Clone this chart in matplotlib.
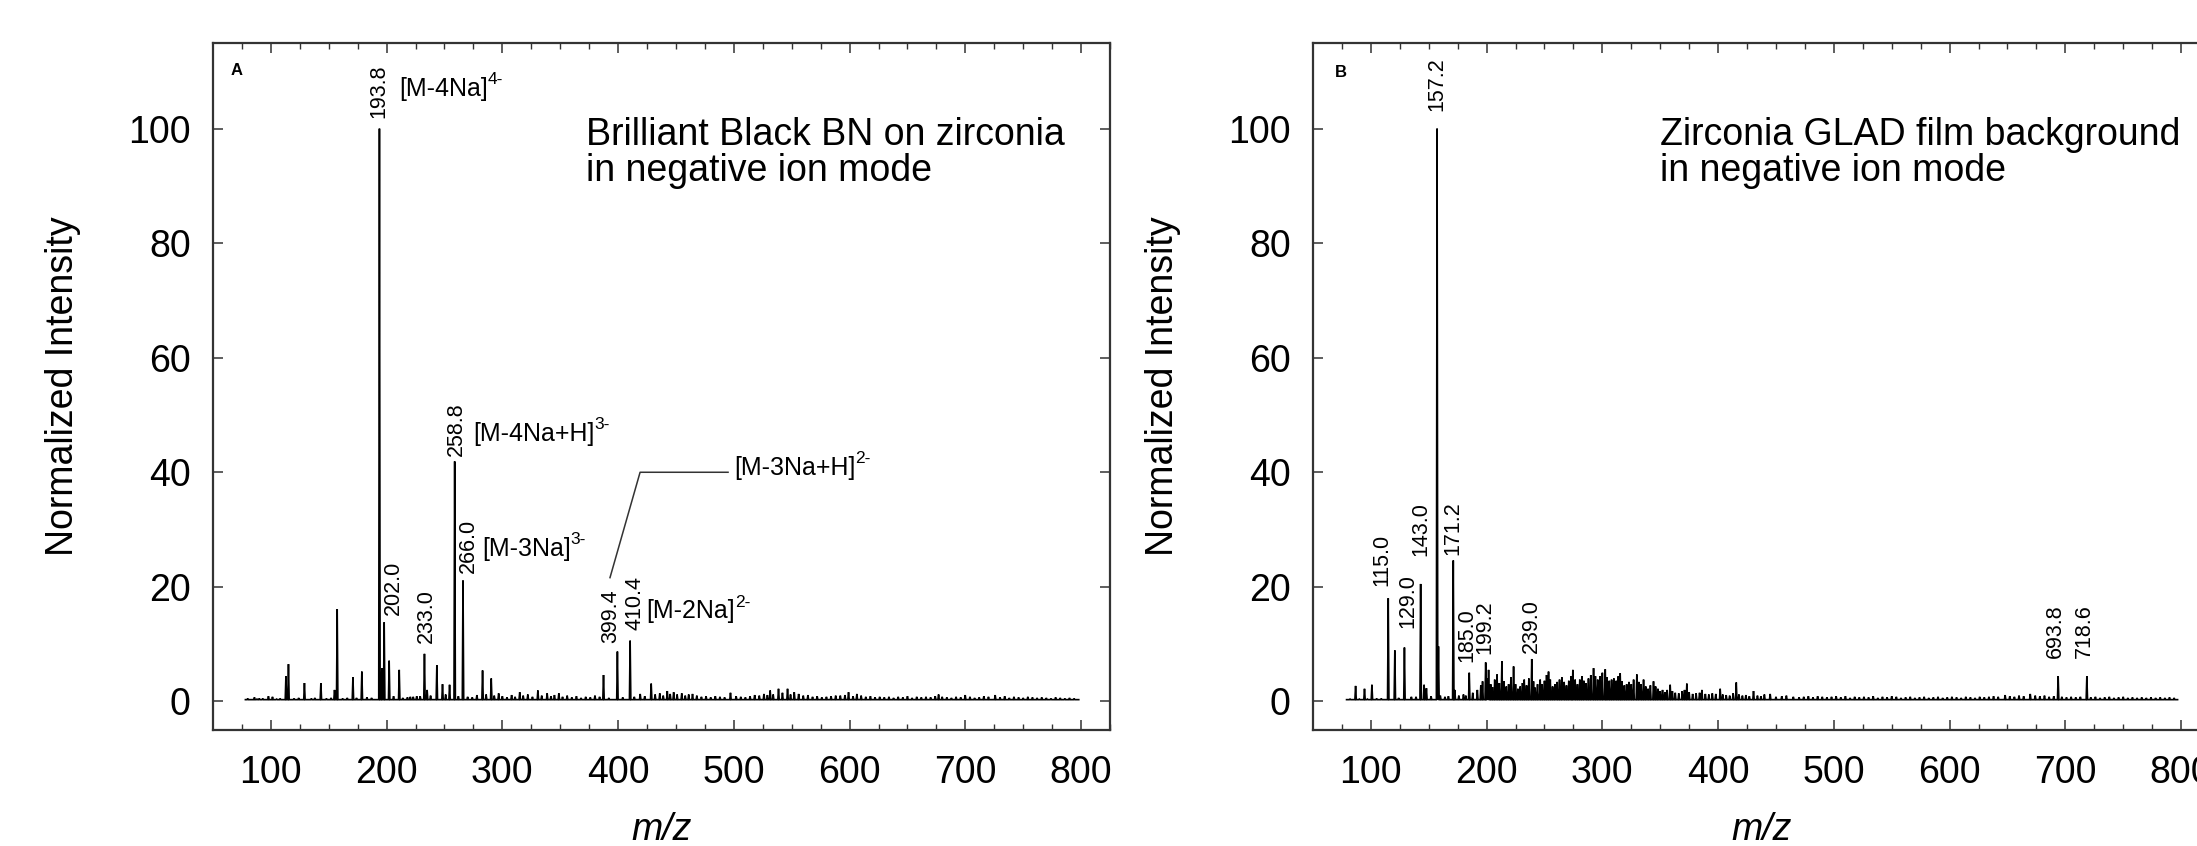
import matplotlib
matplotlib.use("Agg")
import matplotlib.pyplot as plt
import numpy as np

plt.rcParams['font.family'] = ['Liberation Sans', 'DejaVu Sans']

# ---- panel A: Brilliant Black BN on zirconia (m/z, normalized intensity) ----
peaks_a_mz = [85.8, 90, 97.9, 101.4, 113, 115.2, 129, 143.2, 155, 157.3, 170.9, 178.6,
              193.8, 195.9, 197.9, 202.2, 210.9, 220.5, 226, 232.7, 235, 243.4, 248.3,
              254.4, 258.8, 266.0, 274, 282.9, 290.4, 296.8, 315, 330.7, 338.7, 348.8,
              387.4, 399.4, 410.4, 419.1, 428.6, 442.5, 448, 464.3, 497.1, 531.4, 538.6,
              546.4, 552.2, 599.1, 606.3, 676.9, 699.9, 725.8]
peaks_a_int = [0.7, 0.5, 0.9, 0.8, 4.4, 6.5, 3.2, 3.2, 2.0, 16.1, 4.2, 5.2,
               100, 5.8, 13.8, 7.1, 5.5, 0.8, 0.9, 8.3, 2.0, 6.3, 3.0,
               2.9, 41.9, 21.1, 0.7, 5.4, 4.0, 1.4, 1.6, 1.9, 1.4, 1.4,
               4.6, 8.7, 10.6, 1.3, 3.1, 1.8, 1.6, 1.3, 1.5, 1.9, 2.2,
               2.2, 1.6, 1.6, 1.3, 1.2, 1.1, 1.1]
noise_a_mz = [80, 88, 93, 105, 108, 120, 124, 135, 138, 148, 152, 162, 166, 174, 183, 187,
              206, 214, 218, 223, 229, 238, 251, 262, 270, 278, 286, 293,
              300, 304, 308, 311, 318, 322, 326, 334, 342, 345, 352, 356, 360, 364, 368,
              372, 376, 380, 384, 392, 404, 414, 423, 432, 436, 439, 445, 451, 455, 458,
              461, 468, 472, 476, 480, 484, 488, 492, 502, 506, 510, 514, 518, 522, 526,
              529, 534, 542, 549, 556, 560, 564, 568, 572, 576, 580, 584, 588, 592, 596,
              603, 610, 614, 618, 622, 626, 630, 634, 638, 642, 646, 650, 654, 658, 662,
              666, 670, 674, 680, 684, 688, 692, 696, 704, 708, 712, 716, 720, 730, 734,
              738, 742, 746, 750, 754, 758, 762, 766, 770, 774, 778, 782, 786, 790, 794]
noise_a_int = [0.5, 0.4, 0.5, 0.4, 0.5, 0.5, 0.6, 0.5, 0.6, 0.5, 0.6, 0.5, 0.6, 0.6, 0.7, 0.6,
               0.9, 0.6, 0.7, 0.8, 0.9, 1.0, 1.2, 0.9, 0.8, 1.1, 1.2, 1.0,
               0.9, 0.7, 1.1, 0.8, 1.0, 1.2, 0.8, 1.0, 0.9, 1.1, 0.8, 1.0, 0.7, 0.9, 0.6,
               0.8, 0.7, 1.0, 0.8, 0.6, 0.7, 0.8, 0.9, 1.2, 1.4, 1.0, 1.3, 1.2, 1.4, 1.0,
               1.2, 1.0, 0.8, 0.9, 0.7, 0.9, 0.8, 0.7, 0.9, 0.8, 0.7, 0.9, 1.1, 1.0, 1.3,
               1.1, 1.2, 1.5, 1.2, 1.3, 1.0, 1.1, 0.8, 0.9, 0.7, 0.8, 0.9, 1.0, 1.0, 1.1,
               0.9, 1.0, 0.8, 0.9, 0.7, 0.8, 0.7, 0.8, 0.6, 0.8, 0.7, 0.9, 0.6, 0.8, 0.7,
               0.8, 0.7, 0.9, 0.8, 0.7, 0.6, 0.8, 0.7, 0.8, 0.6, 0.7, 0.9, 0.8, 0.7, 0.9,
               0.6, 0.8, 0.7, 0.6, 0.8, 0.7, 0.6, 0.7, 0.6, 0.5, 0.7, 0.6, 0.5, 0.6, 0.5]
range_a = (78, 798)

# peak value labels: text, x position, bottom of text
labels_a = ['193.8', '202.0', '233.0', '258.8', '266.0', '399.4', '410.4']
labels_a_x = [193.6, 205.7, 234.7, 259.9, 270.5, 393.8, 414.8]
labels_a_y = [101.9, 15.1, 10.2, 42.8, 22.4, 10.2, 12.5]

ions_a = ['[M-4Na]', '[M-4Na+H]', '[M-3Na]', '[M-2Na]', '[M-3Na+H]']
ions_a_sup = ['4-', '3-', '3-', '2-', '2-']
ions_a_x = [210.9, 275, 282.3, 424.3, 500]
ions_a_y = [106.9, 46.7, 26.6, 15.7, 40.8]
leader_x = [393, 419, 495]
leader_y = [21.6, 40, 40]

# ---- panel B: zirconia GLAD film background ----
peaks_b_mz = [86.8, 94.5, 100.9, 115.0, 120.7, 129.0, 135, 143.0, 146, 148, 157.2, 158.4,
              160, 164, 171.2, 172.5, 176, 180, 185.0, 188, 192, 195, 196.5, 199.2, 200.5,
              201.7, 203.5, 205, 207, 209, 211, 213.2, 215, 217, 219, 221, 223.3, 225, 227,
              229, 231, 232.5, 234.5, 236.5, 239.0, 240.5, 242, 244, 246.3, 248, 250, 251.8,
              253.5, 255, 257, 259, 261, 263, 265, 267, 269, 271, 273, 274.5, 276.5, 278.5,
              280.5, 282.3, 284, 286, 288, 290, 292.4, 294, 296, 298, 300, 302.5, 304, 306,
              308, 310, 312, 313.8, 315.4, 317, 319, 321, 323, 325, 327, 329.8, 331.5, 333.5,
              335.6, 337.5, 339.5, 341.5, 344.2, 346, 348, 350, 352, 354, 356, 358.6, 360.5,
              363, 366, 369, 371, 373, 375, 378, 381, 384, 386, 389, 392, 395, 398, 401.8,
              404, 407, 410, 413, 415.7, 418, 421, 424, 427, 430.6, 434, 437, 440, 445, 450,
              455, 459, 465, 470, 693.8, 718.6]
peaks_b_int = [2.7, 2.2, 2.9, 18.0, 8.9, 9.4, 0.8, 20.5, 2.9, 2.3, 100, 9.6,
               1.0, 0.8, 24.6, 2.0, 1.0, 1.2, 5.0, 1.5, 2.0, 2.8, 3.5, 6.8, 4.0,
               5.5, 3.0, 2.5, 3.8, 4.7, 3.2, 7.0, 3.5, 2.6, 3.0, 4.2, 6.1, 3.0, 2.2,
               2.6, 3.2, 3.8, 2.8, 4.0, 7.4, 3.5, 2.4, 3.0, 3.8, 3.0, 3.6, 4.6,
               5.2, 3.8, 2.6, 3.0, 3.4, 3.8, 4.2, 3.4, 2.8, 3.6, 4.4, 5.5, 3.8, 3.0,
               3.8, 4.4, 3.6, 3.2, 4.0, 4.6, 5.8, 4.4, 3.8, 4.4, 5.0, 5.6, 4.2, 3.6,
               3.8, 4.0, 3.6, 4.4, 4.9, 3.5, 2.8, 3.0, 3.4, 3.0, 3.8, 4.7, 3.4, 3.0,
               3.8, 2.6, 2.2, 2.8, 3.5, 2.6, 2.2, 1.8, 2.0, 1.6, 2.0, 2.9, 1.8,
               1.5, 1.4, 1.8, 2.0, 3.1, 1.6, 1.3, 1.4, 1.5, 2.0, 1.3, 1.2, 1.4, 1.3, 2.2,
               1.2, 1.1, 1.0, 1.4, 3.3, 1.2, 1.0, 1.1, 0.9, 1.8, 1.0, 0.9, 1.2, 1.3, 0.8,
               0.9, 1.0, 0.8, 0.7, 4.4, 4.4]
noise_b_mz = [82, 90, 97, 105, 109, 124, 139, 152, 167, 182,
              474, 478, 482, 486, 490, 494, 498, 502, 506, 510, 514, 518, 522, 526, 530, 534,
              538, 542, 546, 550, 554, 558, 562, 566, 570, 574, 578, 582, 586, 590, 594, 598,
              602, 606, 610, 614, 618, 622, 626, 630, 634, 638, 642, 648, 652, 656, 660, 664,
              669.7, 674, 678, 682, 686, 690, 697, 701, 705, 709, 713, 722, 726, 730, 734, 738,
              742, 746, 750, 754, 758, 762, 766, 770, 774, 778, 782, 786, 790, 794]
noise_b_int = [0.4, 0.4, 0.4, 0.5, 0.5, 0.6, 0.8, 0.9, 0.9, 1.0,
               0.8, 0.9, 0.7, 0.9, 0.8, 0.7, 0.8, 0.9, 0.7, 0.9, 0.6, 0.8, 0.7, 0.8, 0.7, 0.9,
               0.6, 0.8, 0.7, 0.9, 0.8, 0.6, 0.7, 0.8, 0.6, 0.7, 0.8, 0.6, 0.7, 0.8, 0.6, 0.7,
               0.8, 0.7, 0.6, 0.8, 0.7, 0.6, 0.8, 0.7, 0.8, 0.9, 0.8, 1.1, 0.9, 0.8, 1.0, 0.9,
               1.3, 1.0, 0.9, 1.0, 0.8, 0.9, 0.8, 0.7, 0.8, 0.7, 0.8, 0.7, 0.8, 0.6, 0.7, 0.8,
               0.6, 0.7, 0.8, 0.6, 0.7, 0.6, 0.7, 0.6, 0.7, 0.6, 0.7, 0.6, 0.7, 0.6]
range_b = (79, 797)

labels_b = ['115.0', '129.0', '143.0', '157.2', '171.2', '185.0', '199.2', '239.0', '693.8', '718.6']
labels_b_x = [109.5, 131.6, 143.5, 157.0, 170.8, 183.0, 198.2, 239.1, 691.3, 716.6]
labels_b_y = [20.1, 12.8, 25.3, 103.0, 25.6, 6.8, 8.2, 8.4, 7.6, 7.6]

BASE = 0.3
FS = 27


def profile(mz, h, lo, hi, w=0.6):
    # stick list -> continuous trace with narrow peaks on a flat baseline
    order = np.argsort(mz)
    mz = np.asarray(mz, float)[order]
    h = np.asarray(h, float)[order]
    xs, ys = [lo], [BASE]
    for i, (m, v) in enumerate(zip(mz, h)):
        left = m - w if i == 0 else max(m - w, (mz[i - 1] + m) / 2)
        right = m + w if i == len(mz) - 1 else min(m + w, (m + mz[i + 1]) / 2)
        xs += [left, m, right]
        ys += [BASE, v, BASE]
    xs.append(hi)
    ys.append(BASE)
    return xs, ys


def style_axes(ax):
    ax.set_xlim(50, 825)
    ax.set_ylim(-5, 115)
    ax.set_xticks(np.arange(100, 801, 100))
    ax.set_xticks(np.arange(75, 826, 25), minor=True)
    ax.set_yticks(np.arange(0, 101, 20))
    ax.tick_params(which='both', direction='in', top=True, right=True,
                   colors='#333333', labelcolor='black', labelsize=FS)
    ax.tick_params(which='major', length=7, width=1.1, pad=18)
    ax.tick_params(which='minor', length=4, width=1.0)
    ax.tick_params(axis='y', pad=16)
    for s in ax.spines.values():
        s.set_linewidth(1.6)
        s.set_color('#333333')
    ax.set_ylabel('Normalized Intensity', fontsize=FS)
    ax.yaxis.set_label_coords(-0.147, 0.5)
    ax.set_xlabel('m/z', fontsize=FS, style='italic')
    ax.xaxis.set_label_coords(0.5, -0.12)


fig = plt.figure(figsize=(21.97, 8.46), dpi=100)
axA = fig.add_axes([213 / 2197, 1 - 730 / 846, 897 / 2197, 687.3 / 846])
axB = fig.add_axes([1313 / 2197, 1 - 730 / 846, 897 / 2197, 687.3 / 846])

for ax, pm, pi, nm, ni, rng in [
        (axA, peaks_a_mz, peaks_a_int, noise_a_mz, noise_a_int, range_a),
        (axB, peaks_b_mz, peaks_b_int, noise_b_mz, noise_b_int, range_b)]:
    xs, ys = profile(list(pm) + list(nm), list(pi) + list(ni), *rng)
    ax.plot(xs, ys, color='black', lw=1.2, solid_joinstyle='miter')
    style_axes(ax)

for t, x, y in zip(labels_a, labels_a_x, labels_a_y):
    axA.text(x, y, t, rotation=90, ha='center', va='bottom', fontsize=15.5)
for t, x, y in zip(labels_b, labels_b_x, labels_b_y):
    axB.text(x, y, t, rotation=90, ha='center', va='bottom', fontsize=15.5)

for t, s, x, y in zip(ions_a, ions_a_sup, ions_a_x, ions_a_y):
    main = axA.text(x, y, t, ha='left', va='center', fontsize=18)
    axA.annotate(s, xy=(1, 0.88), xycoords=main, ha='left', va='center', fontsize=12.5)
axA.plot(leader_x, leader_y, color='#333333', lw=1.1)

axA.text(372, 102.0, 'Brilliant Black BN on zirconia\nin negative ion mode',
         ha='left', va='top', fontsize=FS, linespacing=1.0)
axB.text(350, 102.0, 'Zirconia GLAD film background\nin negative ion mode',
         ha='left', va='top', fontsize=FS, linespacing=1.0)

axA.text(0.02, 0.96, 'A', transform=axA.transAxes, ha='left', va='center',
         fontsize=12, fontweight='bold')
axB.text(0.0245, 0.956, 'B', transform=axB.transAxes, ha='left', va='center',
         fontsize=12, fontweight='bold')

fig.savefig('out.png', dpi=100)
